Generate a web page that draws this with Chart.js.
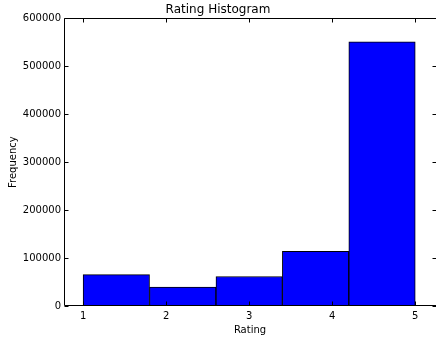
<!DOCTYPE html>
<html>
<head>
<meta charset="utf-8">
<title>Rating Histogram</title>
<script src="https://cdn.jsdelivr.net/npm/chart.js@4/dist/chart.umd.min.js"></script>
<style>
  html, body { margin: 0; padding: 0; background: #fff; }
  #wrap { width: 436px; height: 342px; }
</style>
</head>
<body>
<div id="wrap"><canvas id="chart"></canvas></div>
<script>
// Histogram bins (edges) and their counts.
const binEdges = [1, 1.8, 2.6, 3.4, 4.2, 5];
const counts = [65500, 39500, 61500, 114000, 551000];
const xTicks = [1, 2, 3, 4, 5];
const yTicks = [0, 100000, 200000, 300000, 400000, 500000, 600000];
const xRange = [0.77, 5.25];
const yRange = [0, 600000];

const FONT = '"DejaVu Sans", sans-serif';

// one bar per bin, centred between its two edges
const bars = counts.map((n, i) => ({ x: (binEdges[i] + binEdges[i + 1]) / 2, y: n }));

// matplotlib-style frame with inward ticks; the right spine sits just off the canvas
const framePlugin = {
  id: 'frame',
  afterDatasetsDraw(chart) {
    const { ctx, chartArea: a, scales } = chart;
    const L = Math.round(a.left) + 0.5, R = chart.width + 0.5;
    const T = Math.round(a.top) + 0.5, B = Math.round(a.bottom) - 0.5;
    ctx.save();
    ctx.strokeStyle = '#000';
    ctx.lineWidth = 1;
    ctx.beginPath();
    ctx.moveTo(R, T); ctx.lineTo(L, T); ctx.lineTo(L, B); ctx.lineTo(R, B);
    xTicks.forEach((v) => {
      const x = Math.round(scales.x.getPixelForValue(v)) + 0.5;
      ctx.moveTo(x, B); ctx.lineTo(x, B - 4);
      ctx.moveTo(x, T); ctx.lineTo(x, T + 4);
    });
    yTicks.forEach((v) => {
      const y = Math.round(scales.y.getPixelForValue(v)) + 0.5;
      ctx.moveTo(L, y); ctx.lineTo(L + 4, y);
      ctx.moveTo(R, y); ctx.lineTo(R - 4, y);
    });
    ctx.stroke();
    ctx.restore();
  },
};

new Chart(document.getElementById('chart'), {
  type: 'bar',
  data: {
    datasets: [{
      data: bars,
      backgroundColor: '#0000ff',
      borderColor: '#000000',
      borderWidth: 1,
      borderSkipped: false,
      barPercentage: 1,
      categoryPercentage: 1,
    }],
  },
  options: {
    responsive: true,
    maintainAspectRatio: false,
    animation: false,
    layout: { padding: 0 },
    plugins: {
      legend: { display: false },
      tooltip: { enabled: false },
      title: {
        display: true,
        text: 'Rating Histogram',
        color: '#000',
        font: { family: FONT, size: 12, weight: 'normal' },
        padding: { top: 3, bottom: 1 },
      },
    },
    scales: {
      x: {
        type: 'linear',
        offset: false,
        min: xRange[0],
        max: xRange[1],
        grid: { display: false, drawTicks: false },
        border: { display: false },
        afterBuildTicks: (s) => { s.ticks = xTicks.map((v) => ({ value: v })); },
        afterFit: (s) => { s.height = 36; },
        ticks: {
          color: '#000',
          font: { family: FONT, size: 10 },
          padding: 4,
          maxRotation: 0,
          callback: (v) => String(v),
        },
        title: {
          display: true,
          text: 'Rating',
          color: '#000',
          font: { family: FONT, size: 10 },
          padding: { top: 0, bottom: 6 },
        },
      },
      y: {
        min: yRange[0],
        max: yRange[1],
        grid: { display: false, drawTicks: false },
        border: { display: false },
        afterBuildTicks: (s) => { s.ticks = yTicks.map((v) => ({ value: v })); },
        afterFit: (s) => { s.width = 64; },
        ticks: {
          color: '#000',
          font: { family: FONT, size: 10 },
          padding: 3,
          callback: (v) => String(v),
        },
        title: {
          display: true,
          text: 'Frequency',
          color: '#000',
          font: { family: FONT, size: 10 },
          padding: { top: 7, bottom: 0 },
        },
      },
    },
  },
  plugins: [framePlugin],
});
</script>
</body>
</html>
